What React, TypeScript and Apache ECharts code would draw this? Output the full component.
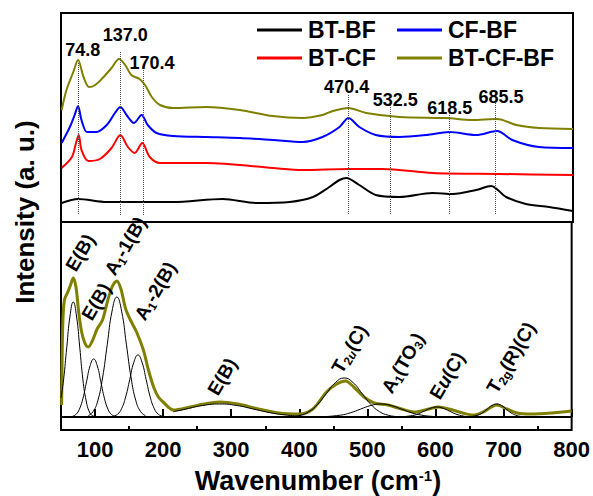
import React, { useEffect, useRef } from "react";
import * as echarts from "echarts";

const FONT = '"Liberation Sans", Arial, Helvetica, sans-serif';

// ---------- Top panel: measured spectra (offset stacked) ----------
const legendNames = ["BT-BF", "BT-CF", "CF-BF", "BT-CF-BF"];
const lineColors = ["#000000", "#ff0000", "#0000ff", "#808000"];

const btBf = [[51,20],[75,24],[117,21],[165,21],[214,21],[287,24],[336,20],[385,21],[419,26],[443,36],[458,43],[468,45],[487,38],[511,28],[546,26],[594,30],[624,29],[658,33],[680,37],[702,26],[731,19],[765,16],[800,12]];
const btCf = [[51,55],[66,66],[72,80],[76,88],[80,73],[90,62],[107,64],[124,75],[137,88],[148,76],[158,70],[169,80],[180,66],[195,60],[263,60],[360,55],[404,53],[472,54],[521,54],[594,50],[692,49],[800,48]];
const cfBf = [[51,80],[63,96],[70,108],[75,117],[80,103],[88,91],[102,91],[117,98],[129,110],[137,116],[146,108],[157,100],[168,108],[177,98],[190,90],[214,87],[263,86],[312,85],[360,83],[404,81],[433,86],[458,96],[471,105],[487,96],[511,88],[546,86],[585,88],[619,91],[658,88],[689,92],[711,83],[750,76],[800,75]];
const btCfBf = [[51,113],[58,133],[68,151],[75,163],[83,146],[91,136],[100,138],[111,145],[124,155],[135,164],[144,158],[153,148],[165,144],[173,138],[183,126],[195,118],[214,115],[263,116],[312,113],[360,107],[404,105],[433,108],[448,112],[471,115],[497,110],[546,106],[614,105],[652,103],[689,104],[717,98],[750,95],[800,94]];

const topPeaks = [74.8, 137.0, 170.4, 470.4, 532.5, 618.5, 685.5];
const peakLabelShift = [7, 7, 13, -2, 7, 1, 9];
const peakLabelLevel = [173, 188, 160, 136, 123, 115, 126];
const peakLineTop = [160, 171, 153, 128, 120, 110, 120];
const peakLineBottom = 8;

// ---------- Bottom panel: fit of BT-CF-BF ----------
const fitTotal = [[51,12],[52.5,90],[55,117],[60,125],[64,132],[68,139],[72,130],[76,105],[80,86],[85,74],[90,70],[96,76],[103,88],[111,97],[118,115],[125,130],[132,136],[138,128],[145,108],[152,97],[161,85],[171,67],[178,48],[186,30],[193,20],[200,15],[215,7],[240,10],[260,13],[283,15],[310,13],[340,8],[370,4],[400,3],[420,8],[440,25],[455,33],[468,36],[480,30],[495,20],[510,14],[530,12],[550,8],[570,5],[590,8],[605,10],[620,8],[640,4],[655,2],[670,5],[690,12],[705,8],[720,4],[740,3],[770,4],[800,6]];

const peakEB1 = [[50,19],[53.75,37],[58.5,70],[63.25,101],[68,115],[72.75,101],[77.5,70],[82.25,37],[87,16],[91.75,5],[96.5,1.3],[102,0]];
const peakEB2 = [[66.5,0.6],[71.75,2.5],[77,7.8],[82.25,18.8],[87.5,35.2],[92.75,51.2],[98,58],[103.25,51.2],[108.5,35.2],[113.75,18.8],[119,7.8],[124.25,2.5],[129.5,0.6]];
const peakA11 = [[90,1.3],[97,5.3],[104,16.2],[111,39],[118,72.8],[125,105.9],[132,120],[139,105.9],[146,72.8],[153,39],[160,16.2],[167,5.3],[174,1.3]];
const peakA12 = [[127,0.7],[133,2.7],[139,8.4],[145,20.1],[151,37.6],[157,54.7],[163,62],[169,54.7],[175,37.6],[181,20.1],[187,8.4],[193,2.7],[199,0.7]];
const peakEB3 = [[215,5.2],[233,7.9],[258,11.5],[283,13],[308,11.5],[333,7.9],[358,4.2],[383,1.8],[408,0.6],[433,0.1]];
const peakT2u = [[388,0.4],[401,1.7],[414,5.3],[427,12.7],[440,23.7],[453,34.4],[466,39],[479,34.4],[492,23.7],[505,12.7],[518,5.3],[531,1.7],[544,0.4]];
const peakA1TO3 = [[430,0.1],[460,1.8],[475,4.2],[490,7.9],[505,11.5],[520,13],[535,11.5],[550,7.9],[565,4.2],[580,1.8],[595,0.6],[610,0.1]];
const peakEu = [[548,0.1],[566,1.4],[575,3.2],[584,6.1],[593,8.8],[602,10],[611,8.8],[620,6.1],[629,3.2],[638,1.4],[647,0.4],[656,0.1]];
const peakT2g = [[648,0.1],[662,1.8],[669,4.2],[676,7.9],[683,11.5],[690,13],[697,11.5],[704,7.9],[711,4.2],[718,1.8],[725,0.6],[732,0.1]];
const fitPeaks = [peakEB1, peakEB2, peakA11, peakA12, peakEB3, peakT2u, peakA1TO3, peakEu, peakT2g];

const modeLabels = [
  "{n|E(B)}",
  "{n|E(B)}",
  "{n|A}{s|1}{n|-1(B)}",
  "{n|A}{s|1}{n|-2(B)}",
  "{n|E(B)}",
  "{n|T}{s|2}{si|u}{n|(C)}",
  "{n|A}{s|1}{n|(TO}{s|3}{n|)}",
  "{n|E}{ni|u}{n|(C)}",
  "{n|T}{s|2g}{n|(R)(C)}",
];
const modeLabelAnchor = [[80,275],[96,324],[119,279],[149,324],[222,399],[346,377],[396,397],[444,403],[501,397]];

const xMajorTicks = [100, 200, 300, 400, 500, 600, 700, 800];
const xMinorTicks = [150, 250, 350, 450, 550, 650, 750];
const X_MIN = 50, X_MAX = 800;

function buildOption() {
  const topSeriesData = [btBf, btCf, cfBf, btCfBf];
  const topSeries = topSeriesData.map((d, i) => ({
    name: legendNames[i],
    type: "line",
    xAxisIndex: 0,
    yAxisIndex: 0,
    data: d,
    showSymbol: false,
    smooth: 0.3,
    lineStyle: { color: lineColors[i], width: 2 },
    itemStyle: { color: lineColors[i] },
    z: 3,
    markLine: i === 0 ? {
      silent: true,
      symbol: ["none", "none"],
      label: { show: false },
      lineStyle: { type: "dotted", color: "#555", width: 1 },
      data: topPeaks.map((p, k) => [
        { coord: [p, peakLineTop[k]] },
        { coord: [p, peakLineBottom] },
      ]),
    } : undefined,
  }));

  const peakLabelSeries = {
    type: "scatter",
    xAxisIndex: 0,
    yAxisIndex: 0,
    symbolSize: 0,
    silent: true,
    itemStyle: { opacity: 1, color: "#000" },
    data: topPeaks.map((p, k) => ({ value: [p + peakLabelShift[k], peakLabelLevel[k]], name: p.toFixed(1) })),
    label: {
      show: true,
      position: "inside",
      formatter: "{b}",
      fontSize: 18,
      fontWeight: "bold",
      fontFamily: FONT,
      color: "#000",
      opacity: 1,
      textBorderWidth: 0,
    },
    z: 5,
  };

  const totalSeries = {
    name: "fit-total",
    type: "line",
    xAxisIndex: 1,
    yAxisIndex: 1,
    data: fitTotal,
    showSymbol: false,
    smooth: 0.3,
    lineStyle: { color: "#808000", width: 3 },
    z: 2,
    markLine: {
      silent: true,
      symbol: ["none", "none"],
      label: { show: false },
      lineStyle: { type: "solid", color: "#000", width: 2 },
      data: [{ yAxis: 0 }],
    },
  };

  const peakSeries = fitPeaks.map((d, i) => ({
    name: "fit-" + i,
    type: "line",
    xAxisIndex: 1,
    yAxisIndex: 1,
    data: d,
    showSymbol: false,
    smooth: 0.5,
    lineStyle: { color: "#000", width: 1 },
    z: 4,
  }));

  const rich = {
    n: { fontSize: 19, lineHeight: 22, fontWeight: "bold", fontFamily: FONT, fill: "#000", color: "#000" },
    ni: { fontSize: 19, lineHeight: 22, fontWeight: "bold", fontStyle: "italic", fontFamily: FONT, fill: "#000", color: "#000" },
    s: { fontSize: 12, lineHeight: 12, verticalAlign: "bottom", fontWeight: "bold", fontFamily: FONT, fill: "#000", color: "#000" },
    si: { fontSize: 12, lineHeight: 12, verticalAlign: "bottom", fontWeight: "bold", fontStyle: "italic", fontFamily: FONT, fill: "#000", color: "#000" },
  };

  const modeTexts = modeLabels.map((t, i) => ({
    type: "text",
    x: modeLabelAnchor[i][0],
    y: modeLabelAnchor[i][1],
    rotation: (60 * Math.PI) / 180,
    z: 10,
    style: {
      text: t,
      rich,
      align: "left",
      verticalAlign: "bottom",
      textAlign: "left",
      textVerticalAlign: "bottom",
    },
  }));

  const legendText = { fontSize: 23, lineHeight: 24, fontWeight: "bold", fontFamily: FONT, color: "#000", padding: [0, 0, 0, 1] };

  return {
    animation: false,
    backgroundColor: "#fff",
    grid: [
      { left: 61, top: 13, width: 512, height: 209, show: true, borderColor: "#000", borderWidth: 2, backgroundColor: "transparent" },
      { left: 61, top: 222, width: 512, height: 208, show: true, borderColor: "#000", borderWidth: 2, backgroundColor: "transparent" },
    ],
    legend: [
      {
        data: ["BT-BF", "BT-CF"],
        orient: "vertical",
        left: 257,
        top: 18,
        padding: 0,
        itemWidth: 45,
        itemHeight: 3,
        itemGap: 4,
        icon: "rect",
        selectedMode: false,
        textStyle: legendText,
      },
      {
        data: ["CF-BF", "BT-CF-BF"],
        orient: "vertical",
        left: 397,
        top: 18,
        padding: 0,
        itemWidth: 45,
        itemHeight: 3,
        itemGap: 4,
        icon: "rect",
        selectedMode: false,
        textStyle: legendText,
      },
    ],
    xAxis: [
      { type: "value", gridIndex: 0, min: X_MIN, max: X_MAX, show: false },
      {
        type: "value",
        gridIndex: 1,
        min: X_MIN,
        max: X_MAX,
        position: "bottom",
        axisLine: { show: false },
        splitLine: { show: false },
        axisTick: { show: true, inside: true, length: 8, customValues: xMajorTicks, lineStyle: { color: "#000", width: 2 } },
        axisLabel: { show: true, customValues: xMajorTicks, fontSize: 22, fontWeight: "bold", fontFamily: FONT, color: "#000", margin: 8 },
      },
      {
        type: "value",
        gridIndex: 1,
        min: X_MIN,
        max: X_MAX,
        position: "bottom",
        axisLine: { show: false },
        splitLine: { show: false },
        axisLabel: { show: false },
        axisTick: { show: true, inside: true, length: 4, customValues: xMinorTicks, lineStyle: { color: "#000", width: 2 } },
      },
    ],
    yAxis: [
      { type: "value", gridIndex: 0, min: 1, max: 210, show: false },
      { type: "value", gridIndex: 1, min: -13, max: 195, show: false },
    ],
    series: [...topSeries, peakLabelSeries, totalSeries, ...peakSeries],
    graphic: [
      {
        type: "text",
        x: 25,
        y: 212,
        rotation: Math.PI / 2,
        style: {
          text: "Intensity (a. u.)",
          font: `bold 26px ${FONT}`,
          fill: "#000",
          align: "center",
          verticalAlign: "middle",
          textAlign: "center",
          textVerticalAlign: "middle",
        },
      },
      {
        type: "text",
        x: 318,
        y: 481,
        style: {
          text: "{m|Wavenumber (cm}{u|-1}{m|)}",
          rich: {
            m: { fontSize: 27, lineHeight: 26, fontWeight: "bold", fontFamily: FONT, fill: "#000", color: "#000" },
            u: { fontSize: 15, lineHeight: 16, verticalAlign: "top", fontWeight: "bold", fontFamily: FONT, fill: "#000", color: "#000" },
          },
          align: "center",
          verticalAlign: "middle",
          textAlign: "center",
          textVerticalAlign: "middle",
        },
      },
      ...modeTexts,
    ],
  };
}

export default function App() {
  const ref = useRef<HTMLDivElement>(null);
  useEffect(() => {
    if (!ref.current) return;
    const chart = echarts.init(ref.current, null, { renderer: "svg" });
    chart.setOption(buildOption() as any);
    return () => chart.dispose();
  }, []);
  return <div ref={ref} style={{ position: "fixed", left: 0, top: 0, width: 593, height: 496 }} />;
}
